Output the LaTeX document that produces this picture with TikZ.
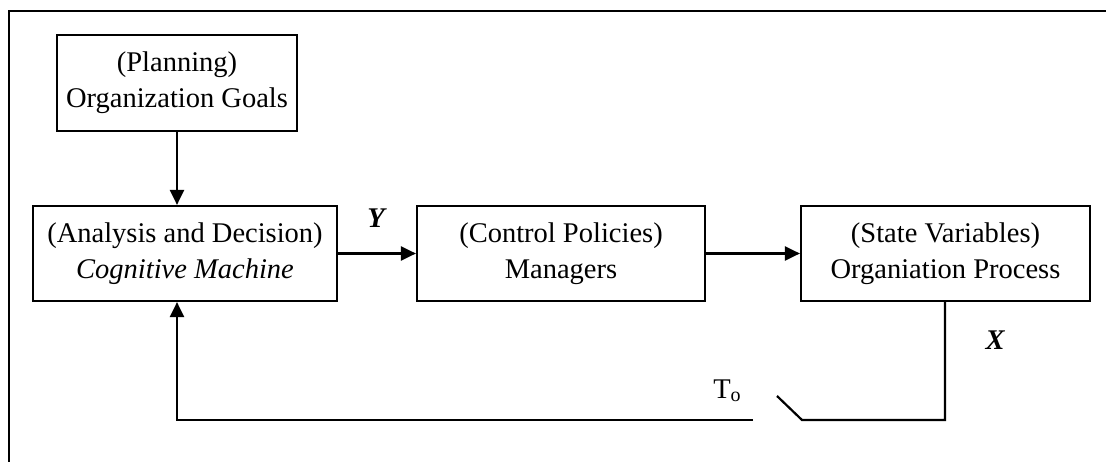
\documentclass[tikz,border=0pt]{standalone}
\usepackage{fontspec}
\setmainfont{Liberation Serif}
\usetikzlibrary{arrows.meta}
\begin{document}
\begin{tikzpicture}[x=1pt,y=-1pt,
  block/.style={draw,line width=2.2pt,align=center,inner sep=0pt,
    font=\fontsize{28.5}{36}\selectfont},
  link/.style={line width=2.2pt},
  arr/.style={link,-{Triangle[length=15pt,width=14pt]}},
  sym/.style={font=\fontsize{28.5}{32}\selectfont\bfseries\itshape}]
  \useasboundingbox (0,0) rectangle (1106,462);
  % outer frame
  \draw[line width=2.4pt] (9,462) -- (9,11) -- (1106,11);
  % blocks
  \node[block,minimum width=240pt,minimum height=96pt] (plan) at (177,83)
    {(Planning)\\Organization Goals};
  \node[block,minimum width=304pt,minimum height=95pt] (ana) at (185,253.5)
    {(Analysis and Decision)\\\textit{Cognitive Machine}};
  \node[block,minimum width=288pt,minimum height=95pt] (mgr) at (561,253.5)
    {(Control Policies)\\Managers};
  \node[block,minimum width=289pt,minimum height=95pt] (st) at (945.5,253.5)
    {(State Variables)\\Organiation Process};
  % forward path
  \draw[arr] (plan.south) -- (plan.south |- ana.north);
  \draw[arr] (ana.east) -- (mgr.west);
  \draw[arr] (mgr.east) -- (st.west);
  % feedback path with sampling switch
  \coordinate (fbr) at (945,420);
  \coordinate (swa) at (802,420);
  \coordinate (swb) at (777,396);
  \coordinate (swc) at (753,420);
  \coordinate (fbl) at (177,420);
  \draw[link] (st.south -| fbr) -- (fbr) -- (swa) -- (swb);
  \draw[arr] (swc) -- (fbl) -- (fbl |- ana.south);
  % labels
  \node[sym] (ylab) at (376,218) {Y};
  \node[sym] (xlab) at (995,340) {X};
  \node[font=\fontsize{28.5}{32}\selectfont] (tlab) at (727,391)
    {T{\fontsize{20}{20}\selectfont\raisebox{-3pt}{o}}};
\end{tikzpicture}
\end{document}
